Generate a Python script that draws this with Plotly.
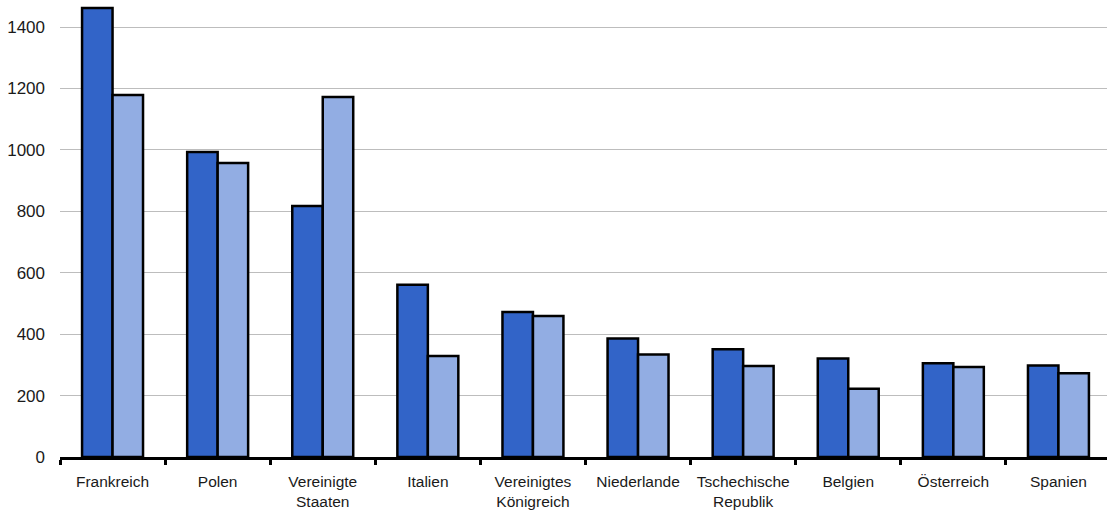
import plotly.graph_objects as go

categories = ["Frankreich", "Polen", "Vereinigte<br>Staaten", "Italien", "Vereinigtes<br>Königreich",
              "Niederlande", "Tschechische<br>Republik", "Belgien", "Österreich", "Spanien"]
series_a = [1462, 993, 817, 561, 472, 386, 351, 321, 305, 298]
series_b = [1179, 957, 1172, 329, 459, 334, 296, 222, 293, 273]
y_ticks = [0, 200, 400, 600, 800, 1000, 1200, 1400]

fig = go.Figure()
fig.add_trace(go.Bar(x=categories, y=series_a, marker=dict(color="#3264C8", line=dict(color="black", width=2.5))))
fig.add_trace(go.Bar(x=categories, y=series_b, marker=dict(color="#92ADE3", line=dict(color="black", width=2.5))))

fig.update_layout(
    width=1107, height=513,
    margin=dict(l=60, r=0, t=4, b=56),
    paper_bgcolor="white", plot_bgcolor="white",
    showlegend=False,
    barmode="group", bargap=0.42, bargroupgap=0,
    font=dict(family="Liberation Sans, Arial, sans-serif", color="#1a1a1a"),
    xaxis=dict(
        range=[-0.5, 9.462],
        showline=True, linecolor="black", linewidth=3,
        ticks="outside", tickson="boundaries", ticklen=5, tickwidth=3, tickcolor="black",
        tickfont=dict(size=15.5), showgrid=False, ticklabelstandoff=8,
    ),
    yaxis=dict(
        range=[0, 1475], tickvals=y_ticks, showgrid=True, gridcolor="#bdbdbd", gridwidth=1,
        zeroline=False, showline=False, tickfont=dict(size=17), ticks="", ticklabelstandoff=14,
    ),
)
fig.write_html("out.html", config={"displayModeBar": False},
               post_script="document.body.style.margin='0';document.body.style.padding='0';")
